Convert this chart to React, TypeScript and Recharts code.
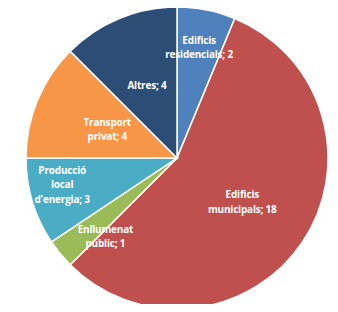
import { PieChart, Pie, Cell } from 'recharts'

const categories = [
  'Edificis residencials',
  'Edificis municipals',
  'Enllumenat públic',
  "Producció local d'energia",
  'Transport privat',
  'Altres',
]
const values = [2, 18, 1, 3, 4, 4]
const colors = ['#4F81BD', '#C0504D', '#9BBB59', '#4BACC6', '#F79646', '#2C4D75']

// label placement tweaks (Excel "best fit" look): radius fraction and angle nudge
const labelRadius = [0.75, 0.52, 0.7, 0.78, 0.5, 0.52]
const labelAngleShift = [0, 0, 8, -4, 0, 0]

const data = categories.map((name, i) => ({ name, value: values[i] }))

const RADIAN = Math.PI / 180

function renderLabel(props: any) {
  const { cx, cy, midAngle, outerRadius, index, name, value } = props
  const r = outerRadius * labelRadius[index]
  const a = (midAngle + labelAngleShift[index]) * RADIAN
  const x = cx + r * Math.cos(-a)
  const y = cy + r * Math.sin(-a)
  const words = String(name).split(' ')
  words[words.length - 1] += `; ${value}`
  const lh = 14.5
  const top = y - ((words.length - 1) * lh) / 2
  return (
    <text
      x={x}
      y={top}
      fill="#fff"
      textAnchor="middle"
      dominantBaseline="central"
      fontFamily="'Open Sans', sans-serif"
      fontSize={10}
      fontWeight={700}
      letterSpacing={-0.2}
    >
      {words.map((w, i) => (
        <tspan key={i} x={x} y={top + i * lh}>
          {w}
        </tspan>
      ))}
    </text>
  )
}

export default function App() {
  return (
    <div style={{ margin: -8, width: 338, height: 312, background: '#fff' }}>
      <PieChart width={338} height={312} margin={{ top: 0, right: 0, bottom: 0, left: 0 }}>
        <Pie
          data={data}
          dataKey="value"
          nameKey="name"
          cx={177}
          cy={158}
          outerRadius={151}
          startAngle={90}
          endAngle={-270}
          stroke="#fff"
          strokeWidth={1.5}
          label={renderLabel}
          labelLine={false}
          isAnimationActive={false}
        >
          {data.map((entry, index) => (
            <Cell key={`cell-${index}`} fill={colors[index]} />
          ))}
        </Pie>
      </PieChart>
    </div>
  )
}
